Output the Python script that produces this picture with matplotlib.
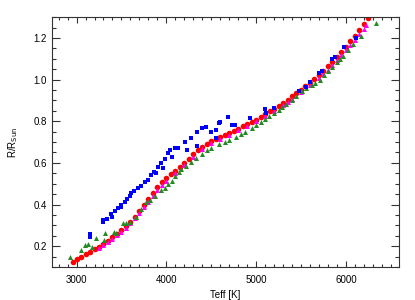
import matplotlib
matplotlib.use("Agg")
import matplotlib.pyplot as plt
from matplotlib.ticker import MultipleLocator

# modelo (vermelho)
red_teff = [2955, 3000, 3050, 3100, 3150, 3200, 3250, 3300, 3350, 3400, 3450, 3500,
            3550, 3600, 3650, 3700, 3750, 3800, 3850, 3900, 3950, 4000, 4050, 4100,
            4150, 4200, 4250, 4300, 4350, 4400, 4450, 4500, 4550, 4600, 4650, 4700,
            4750, 4800, 4850, 4900, 4950, 5000, 5050, 5100, 5150, 5200, 5250, 5300,
            5350, 5400, 5450, 5500, 5550, 5600, 5650, 5700, 5750, 5800, 5850, 5900,
            5950, 6000, 6050, 6100, 6150, 6200, 6250]
red_r = [0.123, 0.140, 0.150, 0.162, 0.174, 0.185, 0.198, 0.212, 0.226, 0.242, 0.258, 0.276,
         0.296, 0.318, 0.342, 0.368, 0.396, 0.425, 0.455, 0.482, 0.506, 0.526, 0.545, 0.563,
         0.582, 0.600, 0.620, 0.642, 0.662, 0.678, 0.692, 0.704, 0.716, 0.726, 0.736, 0.745,
         0.754, 0.764, 0.775, 0.786, 0.797, 0.808, 0.820, 0.833, 0.847, 0.861, 0.875, 0.889,
         0.904, 0.919, 0.935, 0.951, 0.968, 0.985, 1.003, 1.022, 1.042, 1.063, 1.085, 1.108,
         1.132, 1.157, 1.183, 1.210, 1.238, 1.266, 1.295]

# magenta
mag_teff = [3250, 3300, 3350, 3400, 3450, 3500, 3550, 3600, 3650, 3700, 3750, 3800,
            3850, 3900, 3950, 4000, 4100, 4200, 4300, 4400, 4500, 4600, 4700, 4800,
            4900, 5000, 5100, 5200, 5300, 5350, 5400, 5500, 5600, 5700, 5750, 5800,
            5850, 5900, 5950, 6000, 6050, 6100, 6150, 6200, 6230]
mag_r = [0.192, 0.205, 0.220, 0.236, 0.252, 0.270, 0.289, 0.310, 0.333, 0.358, 0.386, 0.414,
         0.443, 0.470, 0.494, 0.515, 0.552, 0.590, 0.628, 0.666, 0.694, 0.714, 0.736, 0.756,
         0.778, 0.800, 0.823, 0.850, 0.878, 0.893, 0.907, 0.938, 0.972, 1.008, 1.028, 1.048,
         1.068, 1.092, 1.116, 1.140, 1.165, 1.192, 1.218, 1.244, 1.260]

# verde
grn_teff = [2925, 3045, 3095, 3125, 3170, 3215, 3305, 3315, 3420, 3440, 3520, 3555,
            3600, 3665, 3720, 3775, 3820, 3876, 3944, 3980, 4022, 4060, 4101, 4140,
            4168, 4220, 4280, 4330, 4393, 4450, 4500, 4584, 4650, 4700, 4775, 4830,
            4880, 4955, 5000, 5050, 5100, 5146, 5200, 5250, 5292, 5337, 5400, 5450,
            5517, 5560, 5620, 5660, 5708, 5760, 5800, 5850, 5899, 5930, 5966, 6020,
            6079, 6169, 6337]
grn_r = [0.147, 0.183, 0.208, 0.212, 0.198, 0.238, 0.232, 0.262, 0.267, 0.262, 0.310, 0.312,
         0.318, 0.340, 0.377, 0.410, 0.420, 0.440, 0.468, 0.480, 0.500, 0.515, 0.535, 0.555,
         0.570, 0.585, 0.605, 0.625, 0.645, 0.660, 0.672, 0.690, 0.700, 0.710, 0.725, 0.738,
         0.750, 0.768, 0.780, 0.795, 0.810, 0.825, 0.840, 0.855, 0.870, 0.882, 0.900, 0.920,
         0.945, 0.960, 0.975, 0.985, 0.996, 1.020, 1.040, 1.060, 1.085, 1.100, 1.115, 1.140,
         1.170, 1.207, 1.274]

# azul (observacoes)
blu_teff = [3146, 3150, 3292, 3300, 3340, 3382, 3390, 3430, 3461, 3490, 3500, 3540,
            3560, 3590, 3607, 3640, 3685, 3720, 3764, 3800, 3831, 3860, 3880, 3910,
            3944, 3960, 3990, 4022, 4045, 4067, 4101, 4135, 4213, 4225, 4270, 4337,
            4337, 4393, 4438, 4494, 4550, 4550, 4584, 4600, 4685, 4730, 4764, 4932,
            5101, 5112, 5202, 5483, 5551, 5596, 5697, 5730, 5843, 5876, 5978, 6112]
blu_r = [0.257, 0.245, 0.325, 0.315, 0.330, 0.353, 0.340, 0.370, 0.382, 0.390, 0.400, 0.410,
         0.425, 0.440, 0.454, 0.465, 0.478, 0.490, 0.507, 0.520, 0.540, 0.555, 0.550, 0.580,
         0.600, 0.575, 0.620, 0.646, 0.660, 0.627, 0.670, 0.670, 0.700, 0.660, 0.718, 0.747,
         0.680, 0.766, 0.770, 0.747, 0.760, 0.720, 0.790, 0.795, 0.820, 0.780, 0.780, 0.814,
         0.857, 0.838, 0.862, 0.943, 0.963, 0.987, 1.030, 1.040, 1.100, 1.110, 1.155, 1.200]

plt.rcParams['font.family'] = ['Liberation Sans', 'DejaVu Sans']

fig = plt.figure(figsize=(4.15, 3.0), dpi=100)
ax = fig.add_axes([0.125, 0.11, 0.836, 0.833])

ax.scatter(red_teff, red_r, s=16, marker='o', color='#ff0000', linewidths=0, zorder=2)
ax.scatter(mag_teff, mag_r, s=13, marker='^', color='#ff00ff', linewidths=0, zorder=3)
ax.scatter(grn_teff, grn_r, s=13, marker='^', color='#228b22', linewidths=0, zorder=3)
ax.scatter(blu_teff, blu_r, s=12, marker='s', color='#0000ff', linewidths=0, zorder=4)

ax.set_xlim(2725, 6590)
ax.set_ylim(0.1, 1.3)
ax.xaxis.set_major_locator(MultipleLocator(1000))
ax.xaxis.set_minor_locator(MultipleLocator(100))
ax.yaxis.set_major_locator(MultipleLocator(0.2))
ax.yaxis.set_minor_locator(MultipleLocator(0.05))

ax.tick_params(axis='both', which='both', direction='in', top=True, right=True,
               labelsize=7, color='#333333', width=0.8)
ax.tick_params(axis='x', which='major', length=4.5)
ax.tick_params(axis='x', which='minor', length=2.2)
ax.tick_params(axis='y', which='major', length=6)
ax.tick_params(axis='y', which='minor', length=3)
ax.tick_params(axis='x', pad=6)

for sp in ax.spines.values():
    sp.set_linewidth(0.8)
    sp.set_color('#333333')

ax.set_xlabel("Teff [K]", fontsize=7, labelpad=3)
ax.set_ylabel(r"R/R$_{\rm Sun}$", fontsize=7, labelpad=10)

fig.savefig("out.png", dpi=100)
